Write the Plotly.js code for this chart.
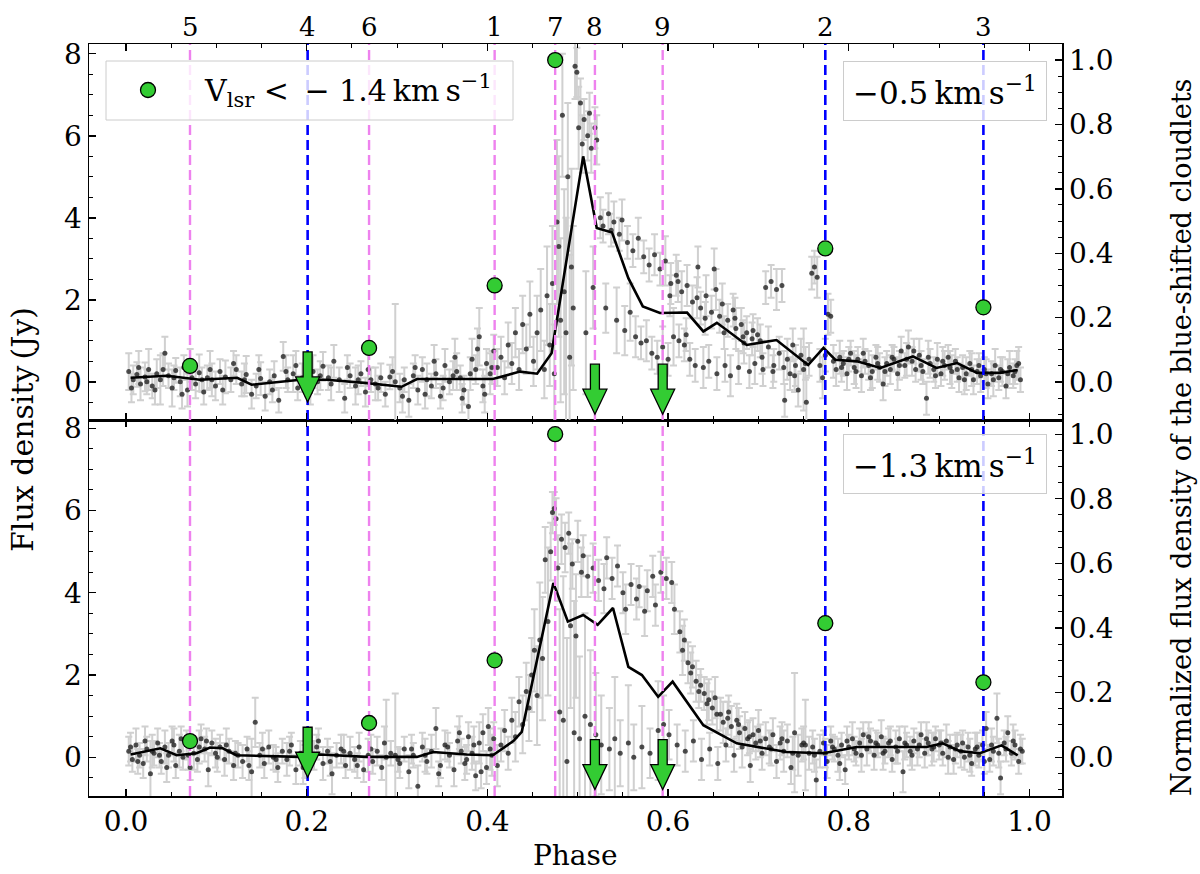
<!DOCTYPE html>
<html>
<head>
<meta charset="utf-8">
<script src="https://cdn.plot.ly/plotly-3.0.1.min.js"></script>
<style>
  html, body { margin: 0; padding: 0; background: #ffffff; }
  #chart { width: 1200px; height: 874px; }
</style>
</head>
<body>
<div id="chart"></div>
<script>
// ---- upper panel (-0.5 km/s): phase, flux density (Jy), 1-sigma error ----
const topPhase = [
  0.003,0.008,0.012,0.016,0.021,0.025,0.029,0.034,0.038,0.043,
  0.047,0.051,0.055,0.060,0.064,0.068,0.073,0.077,0.081,0.086,
  0.090,0.095,0.099,0.104,0.110,0.116,0.122,0.128,0.133,0.139,
  0.144,0.149,0.154,0.159,0.164,0.169,0.174,0.179,0.185,0.190,
  0.195,0.201,0.207,0.212,0.218,0.224,0.230,0.236,0.242,0.248,
  0.254,0.260,0.265,0.271,0.276,0.282,0.287,0.292,0.298,0.303,
  0.308,0.313,0.318,0.323,0.328,0.333,0.338,0.343,0.348,0.353,
  0.358,0.362,0.366,0.370,0.374,0.379,0.383,0.387,0.391,0.395,
  0.399,0.403,0.407,
  0.411,0.415,0.419,0.423,0.427,0.431,0.435,0.439,0.443,0.447,
  0.451,0.455,0.459,0.463,0.466,0.469,0.472,0.474,0.477,0.479,
  0.481,0.483,0.485,0.487,0.489,0.491,0.493,0.495,0.497,0.499,
  0.501,0.503,0.505,0.507,0.509,0.511,0.513,0.515,0.517,0.519,
  0.521,
  0.525,0.528,0.531,0.534,0.537,0.540,0.543,0.546,0.549,0.552,
  0.555,0.558,0.561,0.564,0.567,0.570,0.573,0.576,0.579,0.582,
  0.585,0.588,0.591,0.594,0.597,0.600,0.603,0.606,0.609,0.612,
  0.615,0.618,0.621,0.624,0.627,0.630,0.633,0.636,0.639,0.642,
  0.645,0.648,0.651,0.654,0.657,0.660,0.663,0.666,0.669,0.672,
  0.675,0.678,0.681,0.684,0.687,0.690,0.693,0.696,0.699,0.702,
  0.705,0.708,0.711,0.714,0.717,0.720,0.723,0.726,0.729,0.732,
  0.735,0.738,0.741,0.744,0.747,0.750,0.753,0.756,0.759,0.762,
  0.765,0.768,0.771,0.774,0.777,0.780,0.783,0.786,
  0.790,0.794,0.798,0.802,0.806,0.810,0.814,0.818,0.822,0.826,
  0.830,0.834,0.838,0.842,0.846,0.850,0.854,0.858,0.862,0.866,
  0.870,0.874,0.878,0.882,0.886,0.890,0.894,0.898,0.902,0.906,
  0.910,0.914,0.918,0.922,0.926,0.930,0.934,0.938,0.942,0.946,
  0.950,0.954,0.958,0.962,0.966,0.970,0.974,0.978,0.982,0.986,
  0.990
];
const topFlux = [
  0.25,0.05,0.18,-0.05,0.12,0.30,-0.10,0.20,0.05,0.70,
  0.15,-0.15,0.28,0.00,0.35,-0.20,0.10,-0.05,0.22,-0.25,
  0.10,0.05,-0.10,0.25,0.12,0.05,0.30,-0.05,0.18,-0.30,
  -0.10,0.08,-0.35,0.00,0.15,-0.45,0.62,0.05,0.20,-0.15,
  0.10,-0.05,0.25,0.00,0.38,0.10,0.50,0.05,-0.40,0.15,
  -0.10,0.20,-0.25,0.05,-0.05,0.10,-0.30,0.12,0.00,-0.15,
  0.05,-0.45,0.15,-0.20,0.30,0.05,-0.10,0.20,-0.35,0.40,
  0.00,0.15,0.25,0.10,-0.20,-0.60,0.55,0.30,1.10,-0.10,
  0.45,0.20,0.75,
  0.35,0.60,0.10,0.90,0.45,1.20,0.30,1.40,0.80,1.65,
  0.50,1.20,1.75,0.30,2.10,0.90,2.40,0.20,3.90,3.30,
  1.50,6.50,2.20,1.20,5.00,0.60,2.80,1.80,7.70,7.55,
  6.20,6.80,5.80,6.40,1.20,6.00,6.55,5.70,2.30,6.20,
  5.90,
  4.00,3.80,1.80,4.10,3.70,3.90,1.50,3.60,3.95,1.25,
  3.40,1.70,3.20,1.10,3.50,0.95,3.05,1.00,2.85,0.70,
  3.10,0.60,2.75,0.85,2.95,0.55,2.40,1.10,2.60,1.00,
  2.20,0.90,2.35,0.55,1.95,0.40,2.80,1.80,0.35,2.10,
  0.50,1.70,2.75,0.20,1.60,1.90,0.40,1.50,0.15,1.75,
  1.30,0.35,1.40,0.95,1.20,0.25,1.05,0.45,1.15,1.00,
  0.30,2.30,0.85,2.45,0.40,2.25,0.70,2.35,-0.45,0.55,
  0.20,0.90,0.40,-0.20,0.65,0.30,-0.50,0.55,2.65,2.80,
  2.55,0.40,0.10,0.65,1.65,1.60,0.50,0.30,
  0.60,0.45,0.20,0.70,0.35,0.55,0.15,0.50,0.40,0.25,
  0.60,0.35,-0.05,0.45,0.30,0.55,0.20,0.75,0.40,0.85,
  0.50,0.30,0.65,0.25,-0.40,0.45,0.30,0.55,0.20,0.40,
  0.60,0.25,0.50,0.10,0.35,0.20,0.45,0.05,0.25,0.15,
  0.30,-0.05,0.20,0.40,0.10,0.25,-0.10,0.35,0.15,0.40,
  0.05
];
const topErr = [
  0.45,0.35,0.30,0.40,0.35,0.50,0.30,0.35,0.60,0.40,
  0.30,0.45,0.30,0.35,0.30,0.40,0.30,0.35,0.45,0.30,
  0.30,0.40,0.35,0.30,0.40,0.30,0.35,0.30,0.45,0.35,
  0.30,0.40,0.35,0.30,0.35,0.30,0.35,0.30,0.45,0.30,
  0.35,0.30,0.40,0.30,0.35,0.30,0.40,0.30,0.35,0.30,
  0.45,0.30,0.35,0.30,0.40,0.35,0.30,0.30,1.90,0.35,
  0.30,0.40,0.30,0.35,0.30,0.40,0.30,0.35,0.30,0.40,
  0.30,0.35,0.45,0.30,0.35,0.40,0.50,0.35,0.70,0.40,
  0.35,0.50,0.40,
  0.45,0.50,0.40,0.55,0.50,0.60,0.50,0.70,0.60,0.80,
  0.60,0.90,1.00,0.70,1.20,1.00,1.40,1.20,2.00,2.20,
  2.00,1.50,2.50,2.80,1.80,2.50,2.40,2.00,0.80,0.60,
  1.00,0.60,0.70,0.50,1.50,0.60,0.50,0.60,1.00,0.50,
  0.60,
  0.50,0.40,0.60,0.50,0.40,0.50,0.80,0.40,0.50,0.60,
  0.40,0.70,0.40,0.50,0.50,0.40,0.40,0.50,0.40,0.40,
  0.50,0.40,0.40,0.50,0.60,0.40,0.50,0.70,0.50,0.40,
  0.50,0.40,0.50,0.40,0.40,0.40,0.50,0.40,0.50,0.50,
  0.40,0.40,0.50,0.40,0.40,0.50,0.40,0.40,0.50,0.40,
  0.50,0.40,0.40,0.50,0.40,0.40,0.40,0.50,0.40,0.40,
  0.40,0.40,0.50,0.40,0.40,0.50,0.40,0.40,0.40,0.50,
  0.40,0.40,0.50,0.40,0.40,1.00,0.60,0.40,0.40,0.40,
  0.50,0.40,0.50,0.40,0.50,0.40,0.40,0.40,
  0.40,0.30,0.40,0.30,0.40,0.30,0.40,0.30,0.35,0.40,
  0.30,0.35,0.40,0.30,0.35,0.30,0.40,0.35,0.30,0.40,
  0.35,0.30,0.40,0.30,0.40,0.35,0.30,0.40,0.30,0.35,
  0.30,0.40,0.30,0.35,0.30,0.40,0.30,0.35,0.30,0.40,
  0.30,0.35,0.30,0.40,0.30,0.35,0.30,0.40,0.30,0.35,
  0.30
];
// further upper-panel observations (quiet phases and the decline)
const topPhaseB = [
  0.006,0.014,0.023,0.032,0.041,0.053,0.062,0.071,0.084,0.093,
  0.107,0.119,0.131,0.147,0.162,0.177,0.188,0.204,0.215,0.227,
  0.245,0.257,0.268,0.279,0.295,0.306,0.320,0.331,0.341,0.351,
  0.364,0.372,0.381,0.389,0.397,0.405,
  0.602,0.611,0.620,0.632,0.641,0.653,0.662,0.674,0.683,0.694,
  0.704,0.716,0.728,0.740,0.752,
  0.792,0.800,0.808,0.816,0.824,0.832,0.840,0.848,0.856,0.864,
  0.872,0.880,0.888,0.896,0.904,0.912,0.920,0.928,0.936,0.944,
  0.952,0.960,0.968,0.976,0.984,0.988
];
const topFluxB = [
  -0.15,0.35,0.00,-0.20,0.30,0.10,-0.30,0.40,0.05,0.30,
  -0.20,0.45,0.05,0.30,-0.20,0.25,0.40,-0.25,0.15,-0.05,
  0.35,0.05,0.30,-0.15,0.25,-0.35,0.35,-0.30,0.50,-0.15,
  0.60,-0.40,0.20,0.80,-0.30,0.35,
  2.10,2.45,1.15,2.05,1.55,2.25,1.20,1.55,1.10,1.25,
  0.60,0.25,0.35,0.15,0.45,
  0.35,0.55,0.25,0.70,0.10,0.45,0.25,0.60,0.40,0.55,
  0.75,0.40,0.60,0.15,0.50,0.35,0.30,0.05,0.30,0.40,
  0.20,0.05,0.30,0.20,0.25,0.45
];
const topErrB = [
  0.35,0.40,0.30,0.35,0.40,0.30,0.35,0.40,0.30,0.45,
  0.35,0.30,0.40,0.35,0.30,0.40,0.35,0.30,0.35,0.40,
  0.30,0.35,0.40,0.30,0.35,0.40,0.30,0.35,0.40,0.30,
  0.45,0.35,0.40,0.50,0.45,0.40,
  0.50,0.50,0.40,0.50,0.40,0.50,0.40,0.50,0.40,0.40,
  0.40,0.40,0.40,0.40,0.40,
  0.35,0.30,0.40,0.35,0.30,0.40,0.35,0.30,0.35,0.40,
  0.30,0.35,0.40,0.30,0.35,0.40,0.30,0.35,0.40,0.30,
  0.35,0.40,0.30,0.35,0.30,0.40
];
// binned mean curve, upper panel
const topLinePhase = [0.005,0.045,0.082,0.123,0.139,0.193,0.222,0.267,0.305,0.322,
  0.355,0.406,0.436,0.455,0.471,0.506,0.521,0.538,0.556,0.572,
  0.591,0.621,0.639,0.654,0.687,0.720,0.755,0.772,0.785,0.809,
  0.835,0.871,0.897,0.920,0.942,0.967,0.987];
const topLineFlux = [0.10,0.15,0.05,0.10,-0.07,0.05,0.05,-0.03,-0.12,0.07,
  0.07,0.07,0.25,0.20,0.70,5.50,3.75,3.64,2.53,1.84,
  1.68,1.69,1.23,1.44,0.90,1.02,0.41,0.83,0.54,0.50,
  0.34,0.62,0.34,0.46,0.22,0.22,0.29];

// ---- lower panel (-1.3 km/s) ----
const botPhase = [
  0.003,0.007,0.011,0.015,0.019,0.023,0.027,0.031,0.035,0.039,
  0.043,0.047,0.051,0.055,0.059,0.063,0.067,0.071,0.075,0.079,
  0.083,0.087,0.091,0.095,0.099,0.104,0.109,0.114,0.119,0.124,
  0.129,0.134,0.139,0.143,0.148,0.153,0.158,0.163,0.168,0.173,
  0.178,0.183,0.188,0.193,0.198,0.203,0.208,0.213,0.218,0.223,
  0.228,0.233,0.238,0.243,0.248,0.253,0.258,0.263,0.268,0.273,
  0.278,0.283,0.288,0.293,0.298,0.303,0.308,0.313,0.318,0.323,
  0.328,0.333,0.338,0.343,0.348,0.353,0.358,0.363,0.367,0.371,
  0.375,0.379,0.383,0.387,0.391,0.395,0.399,0.403,0.407,
  0.411,0.415,0.419,0.423,0.427,0.431,0.435,0.439,0.443,0.446,
  0.449,0.452,0.455,0.458,0.461,0.464,0.467,0.470,0.472,0.474,
  0.476,0.478,0.480,0.482,0.484,0.486,0.488,0.490,0.492,0.494,
  0.496,0.498,0.500,0.502,0.504,0.506,0.508,0.511,0.514,0.517,
  0.520,0.523,0.526,0.529,0.532,0.535,0.538,0.541,0.544,0.547,
  0.550,0.553,0.556,0.559,0.562,0.565,0.568,0.571,0.574,0.577,
  0.580,0.583,0.586,0.589,0.592,0.595,0.598,0.601,0.604,0.607,
  0.610,0.613,0.616,0.619,0.622,0.625,0.628,0.631,0.634,0.637,
  0.640,0.643,0.646,0.649,0.652,0.655,0.658,0.661,0.664,0.667,
  0.670,0.673,0.676,0.679,0.682,0.685,0.688,0.691,0.694,0.697,
  0.700,0.704,0.708,0.712,0.716,0.720,0.724,0.728,0.732,0.736,
  0.740,0.744,0.748,0.752,0.756,0.760,0.764,0.768,
  0.772,0.776,0.780,0.784,0.788,0.792,0.796,0.800,0.804,0.808,
  0.812,0.816,0.820,0.824,0.828,0.832,0.836,0.840,0.844,0.848,
  0.852,0.856,0.860,0.864,0.868,0.872,0.876,0.880,0.884,0.888,
  0.892,0.896,0.900,0.904,0.908,0.912,0.916,0.920,0.924,0.928,
  0.932,0.936,0.940,0.944,0.948,0.952,0.956,0.960,0.964,0.968,
  0.972,0.976,0.980,0.984,0.988,0.992
];
const botFlux = [
  0.15,-0.05,0.30,0.05,-0.15,0.20,-0.40,0.10,0.35,-0.10,
  0.25,0.05,0.40,-0.20,0.15,0.00,0.30,-0.25,0.10,-0.05,
  0.45,0.20,-0.30,0.35,0.10,0.25,-0.05,0.15,-0.20,0.05,
  -0.10,0.20,-0.35,0.85,0.05,-0.15,0.25,0.00,-0.25,0.15,
  -0.05,0.30,-0.30,0.10,-0.10,0.20,0.05,0.40,-0.15,0.15,
  -0.40,0.05,0.20,-0.20,0.10,-0.05,0.25,-0.30,0.05,-0.10,
  0.15,-0.25,0.00,0.10,0.05,-0.15,0.20,-0.35,0.05,-0.70,
  0.25,-0.10,0.15,0.70,-0.20,0.30,0.05,-0.30,0.40,0.15,
  -0.15,0.50,0.10,-0.45,0.35,0.60,-0.25,0.20,0.45,
  -0.20,0.30,0.65,0.10,0.90,0.50,1.35,0.80,1.60,1.20,
  2.00,2.60,1.50,2.85,2.40,4.80,3.30,5.00,5.95,6.05,
  5.80,4.60,1.10,5.30,0.90,5.10,-0.10,5.45,3.20,4.70,
  0.60,2.95,5.25,0.45,4.50,4.90,1.00,4.40,0.80,4.60,
  0.55,4.30,0.30,4.10,4.85,0.20,4.35,0.45,4.65,0.10,
  4.00,3.60,0.35,4.20,0.00,3.85,4.15,0.25,3.55,4.05,
  0.10,4.40,3.70,0.65,4.50,0.80,4.35,0.55,4.25,3.60,
  0.30,3.05,2.60,0.15,2.30,2.05,0.40,1.85,1.60,-0.05,
  1.55,1.30,0.20,1.20,1.45,-0.15,1.05,0.85,0.30,1.10,
  0.75,0.05,0.90,0.60,0.25,0.70,0.45,-0.20,0.55,0.35,
  0.65,0.10,0.45,0.25,0.55,-0.10,0.35,0.15,0.40,-0.25,
  0.60,0.05,0.30,0.30,0.10,0.25,-0.55,0.15,
  0.35,-0.10,0.40,0.20,0.05,0.30,-0.30,0.25,0.45,0.10,
  0.35,0.55,0.20,0.40,0.05,0.30,0.50,0.15,0.35,-0.05,
  0.25,0.45,-0.35,0.30,0.15,0.40,0.20,0.55,0.10,0.35,
  0.20,0.45,0.30,0.10,0.40,0.25,-0.05,0.30,0.15,0.00,
  0.25,-0.15,0.20,0.05,0.30,0.70,-0.05,0.15,0.95,-0.50,
  0.35,0.60,0.10,0.30,-0.10,0.15
];
const botErr = [
  0.35,0.30,0.40,0.30,0.35,0.30,0.80,0.30,0.35,0.30,
  0.40,0.30,0.35,0.30,0.40,0.30,0.35,0.30,0.40,0.30,
  0.35,0.30,0.40,0.30,0.35,0.30,0.40,0.30,0.35,0.30,
  0.40,0.30,0.80,0.60,0.30,0.35,0.40,0.30,0.35,0.30,
  0.40,0.30,0.35,0.30,0.40,0.30,0.35,0.30,0.40,0.30,
  0.50,0.30,0.35,0.30,0.40,0.30,0.35,0.30,0.40,0.30,
  0.35,0.30,1.40,0.30,1.50,0.35,0.30,0.40,0.30,0.50,
  0.35,0.30,0.40,0.50,0.30,0.35,0.30,0.40,0.35,0.30,
  0.40,0.35,0.40,0.35,0.50,0.45,0.40,0.50,0.40,
  0.50,0.40,0.50,0.40,0.55,0.60,0.60,0.70,0.70,0.80,
  0.90,1.00,1.20,1.40,1.50,0.80,1.80,0.70,0.50,0.40,
  0.50,0.80,2.50,0.60,3.50,0.60,3.00,0.50,2.00,0.60,
  3.20,1.50,0.50,2.00,0.60,0.50,2.50,0.50,1.80,0.60,
  1.50,0.50,1.20,0.60,0.50,1.00,0.50,1.50,0.50,0.80,
  0.50,0.60,1.40,0.50,0.80,0.50,0.50,1.00,0.60,0.50,
  0.60,0.50,0.50,1.20,0.50,0.70,0.50,0.60,0.50,0.60,
  0.50,0.50,0.60,0.50,0.50,0.50,0.50,0.50,0.40,0.50,
  0.40,0.50,0.40,0.40,0.50,0.40,0.40,0.50,0.40,0.40,
  0.50,0.40,0.40,0.40,0.50,0.40,0.40,0.40,0.40,0.40,
  0.50,0.40,0.40,0.40,0.40,0.40,0.40,0.50,0.40,0.40,
  1.45,0.50,0.40,1.10,0.40,0.40,0.50,0.40,
  0.30,0.40,0.35,0.30,0.40,0.30,0.35,0.30,0.40,0.30,
  0.35,0.30,0.40,0.30,0.35,0.30,0.40,0.30,0.35,0.30,
  0.40,0.30,0.50,0.30,0.35,0.30,0.40,0.30,0.35,0.30,
  0.40,0.30,0.35,0.30,0.40,0.30,0.35,0.30,0.40,0.30,
  0.35,0.30,0.40,0.30,0.35,0.40,0.30,0.35,0.60,0.40,
  0.30,0.40,0.30,0.35,0.30,0.30
];
// further lower-panel observations
const botPhaseB = [
  0.005,0.013,0.021,0.029,0.037,0.045,0.053,0.061,0.069,0.081,
  0.089,0.101,0.111,0.121,0.136,0.151,0.166,0.181,0.196,0.211,
  0.226,0.241,0.256,0.271,0.286,0.301,0.316,0.331,0.346,0.356,
  0.369,0.377,0.385,0.393,0.401,0.405,
  0.618,0.627,0.636,0.645,0.654,0.666,0.678,0.690,0.702,0.714,
  0.726,0.738,0.750,0.762,
  0.774,0.782,0.790,0.798,0.806,0.814,0.822,0.830,0.838,0.846,
  0.854,0.862,0.870,0.878,0.886,0.894,0.902,0.910,0.918,0.926,
  0.934,0.942,0.950,0.958,0.966,0.974,0.982,0.990
];
const botFluxB = [
  0.25,-0.10,0.40,0.15,0.05,-0.25,0.30,0.45,0.05,0.25,
  0.40,0.00,0.30,0.10,-0.20,0.20,-0.05,0.15,-0.25,0.25,
  -0.10,0.15,-0.20,0.20,0.35,-0.05,0.20,0.05,-0.40,0.25,
  0.60,-0.05,0.30,-0.35,0.75,0.05,
  2.85,2.20,1.75,1.40,1.05,0.95,0.80,0.50,0.40,0.20,
  0.45,0.10,0.35,0.05,
  0.10,0.25,-0.15,0.40,0.20,0.05,0.50,0.35,0.10,0.40,
  0.15,0.35,0.05,0.30,0.45,0.25,0.35,0.00,0.20,0.35,
  0.05,0.25,-0.10,0.30,0.10,0.20,0.40,0.20
];
const botErrB = [
  0.35,0.30,0.35,0.40,0.30,0.35,0.40,0.30,0.35,0.40,
  0.30,0.35,0.40,0.30,0.35,0.40,0.30,0.35,0.40,0.30,
  0.35,0.40,0.30,0.35,0.40,0.30,0.35,0.40,0.30,0.35,
  0.40,0.35,0.45,0.40,0.45,0.50,
  0.50,0.50,0.40,0.50,0.40,0.40,0.40,0.40,0.40,0.40,
  0.40,0.40,0.40,0.40,
  0.35,0.30,0.40,0.35,0.30,0.40,0.35,0.30,0.40,0.35,
  0.30,0.40,0.35,0.30,0.40,0.35,0.30,0.40,0.35,0.30,
  0.40,0.35,0.30,0.40,0.35,0.30,0.40,0.35
];
const botLinePhase = [0.005,0.038,0.056,0.078,0.093,0.107,0.122,0.193,0.215,0.266,
  0.322,0.340,0.377,0.406,0.429,0.438,0.473,0.489,0.506,0.522,
  0.539,0.556,0.571,0.589,0.605,0.639,0.676,0.731,0.772,0.783,
  0.809,0.846,0.886,0.904,0.923,0.945,0.969,0.987];
const botLineFlux = [0.07,0.22,0.05,0.10,0.24,0.22,0.05,0.01,0.07,0.01,
  0.01,0.13,0.07,0.05,0.40,0.62,4.24,3.30,3.46,3.22,
  3.63,2.20,2.00,1.47,1.84,0.78,0.34,0.13,0.10,0.15,
  0.25,0.25,0.25,0.34,0.15,0.10,0.29,0.05];

// ---- normalised flux of the blue-shifted cloudlets (same in both panels) ----
const dotPhase = [0.0708, 0.269, 0.408, 0.475, 0.774, 0.949];
const dotNorm  = [0.050, 0.106, 0.300, 1.000, 0.415, 0.232];
// upper limits (arrows): phase and arrow tip on the normalised scale
const arrowPhase = [0.201, 0.519, 0.594];
const arrowTip   = [-0.062, -0.100, -0.100];

// epoch markers
const magentaPhase  = [0.0708, 0.269, 0.408, 0.475, 0.519, 0.594];
const magentaLabels = ['5', '6', '1', '7', '8', '9'];
const bluePhase  = [0.201, 0.774, 0.949];
const blueLabels = ['4', '2', '3'];

const panelLabels = ['\u22120.5\u2009km\u2009s<sup>\u22121</sup>', '\u22121.3\u2009km\u2009s<sup>\u22121</sup>'];

// axis ranges
const xRange = [-0.041, 1.036];
const fluxRangeTop = [-0.93, 8.24];
const fluxRangeBot = [-0.94, 8.20];
const normRangeTop = [-0.118, 1.05];
const normRangeBot = [-0.12, 1.044];

const FONT = 'DejaVu Serif';
const GREEN = '#33cc33';
const MAGENTA = '#ee82ee';
const BLUE = '#0000ff';

function vlines(ps, lo, hi) {
    const x = [], y = [];
    ps.forEach(p => { x.push(p, p, null); y.push(lo, hi, null); });
    return { x, y };
}

function panelTraces(phase, flux, err, lphase, lflux, xa, ya, yn, frange) {
    const mag = vlines(magentaPhase, frange[0], frange[1]);
    const blu = vlines(bluePhase, frange[0], frange[1]);
    return [
        {
            x: phase, y: flux, xaxis: xa, yaxis: ya, type: 'scatter', mode: 'markers',
            marker: { color: 'rgba(35,35,35,0.8)', size: 5 },
            error_y: { type: 'data', array: err, visible: true, color: '#d0d0d0', thickness: 2, width: 3.5 },
            showlegend: false, hoverinfo: 'skip'
        },
        {
            x: lphase, y: lflux, xaxis: xa, yaxis: ya, type: 'scatter', mode: 'lines',
            line: { color: 'black', width: 2.6 }, showlegend: false, hoverinfo: 'skip'
        },
        {
            x: mag.x, y: mag.y, xaxis: xa, yaxis: ya, type: 'scatter', mode: 'lines',
            line: { color: MAGENTA, width: 2.4, dash: '10px,5px' }, showlegend: false, hoverinfo: 'skip'
        },
        {
            x: blu.x, y: blu.y, xaxis: xa, yaxis: ya, type: 'scatter', mode: 'lines',
            line: { color: BLUE, width: 2.6, dash: '10px,5px' }, showlegend: false, hoverinfo: 'skip'
        },
        {
            x: dotPhase, y: dotNorm, xaxis: xa, yaxis: yn, type: 'scatter', mode: 'markers',
            marker: { color: GREEN, size: 15, line: { color: 'black', width: 1.3 } },
            showlegend: false, hoverinfo: 'skip'
        }
    ];
}

const data = [].concat(
    panelTraces(topPhase.concat(topPhaseB), topFlux.concat(topFluxB), topErr.concat(topErrB),
                topLinePhase, topLineFlux, 'x2', 'y', 'y2', fluxRangeTop),
    panelTraces(botPhase.concat(botPhaseB), botFlux.concat(botFluxB), botErr.concat(botErrB),
                botLinePhase, botLineFlux, 'x', 'y3', 'y4', fluxRangeBot)
);

// plot area in pixels: x 89..1062, y 44..796
const M = { l: 89, r: 138, t: 44, b: 78 };
const PW = 1200 - M.l - M.r, PH = 874 - M.t - M.b;
const px = v => (v - M.l) / PW;
const py = v => (874 - M.b - v) / PH;

const tickfont = { family: FONT, size: 28, color: 'black' };
const common = {
    showgrid: false, zeroline: false, showline: true, linecolor: 'black', linewidth: 1.5,
    ticks: 'inside', ticklen: 7, tickwidth: 1.3, tickcolor: 'black', tickfont: tickfont
};
const xCommon = Object.assign({}, common, {
    range: xRange, tick0: 0, dtick: 0.2, tickformat: '.1f', mirror: 'ticks',
    minor: { tick0: 0, dtick: 0.05, ticks: 'inside', ticklen: 4, tickwidth: 1, tickcolor: 'black' }
});
const fluxCommon = Object.assign({}, common, {
    tick0: 0, dtick: 2,
    minor: { tick0: 0, dtick: 0.5, ticks: 'inside', ticklen: 4, tickwidth: 1, tickcolor: 'black' }
});
const normCommon = Object.assign({}, common, {
    side: 'right', tick0: 0, dtick: 0.2, tickformat: '.1f',
    minor: { tick0: 0, dtick: 0.05, ticks: 'inside', ticklen: 4, tickwidth: 1, tickcolor: 'black' }
});

// arrows: green, black outline, tip at (phase, value); geometry in pixels, y up
const arrowPath = 'M0,0 L-12,25 L-4.5,25 L-4.5,50 L4.5,50 L4.5,25 L12,25 Z';
const shapes = [];
[['x2', 'y2'], ['x', 'y4']].forEach(([xr, yr]) => {
    arrowPhase.forEach((p, i) => {
        shapes.push({
            type: 'path', xref: xr, yref: yr, xsizemode: 'pixel', ysizemode: 'pixel',
            xanchor: p, yanchor: arrowTip[i], path: arrowPath,
            fillcolor: GREEN, line: { color: 'black', width: 1.3 }, layer: 'above'
        });
    });
});
// legend frame + symbol
shapes.push({
    type: 'rect', xref: 'paper', yref: 'paper',
    x0: px(106), x1: px(513), y0: py(120), y1: py(61),
    fillcolor: 'rgba(255,255,255,0.8)', line: { color: '#cccccc', width: 1 }, layer: 'above'
});
shapes.push({
    type: 'circle', xref: 'paper', yref: 'paper', xsizemode: 'pixel', ysizemode: 'pixel',
    xanchor: px(148), yanchor: py(90), x0: -7.5, x1: 7.5, y0: -7.5, y1: 7.5,
    fillcolor: GREEN, line: { color: 'black', width: 1.3 }, layer: 'above'
});

const annotations = [];
// epoch numbers above the top panel
magentaPhase.concat(bluePhase).forEach((p, i) => {
    const lab = magentaLabels.concat(blueLabels)[i];
    annotations.push({
        text: lab, x: p, xref: 'x2', y: 1, yref: 'paper', yanchor: 'bottom', yshift: 0,
        showarrow: false, font: { family: FONT, size: 26, color: 'black' }
    });
});
// legend text
annotations.push({
    text: 'V<sub>lsr</sub> &lt; \u2009\u2212 1.4\u2009km\u2009s<sup>\u22121</sup>',
    x: px(202), xref: 'paper', xanchor: 'left', y: py(90), yref: 'paper', yanchor: 'middle',
    showarrow: false, font: { family: FONT, size: 30, color: 'black' }
});
// velocity boxes
[[py(61), 0], [py(434), 1]].forEach(([yy, k]) => {
    annotations.push({
        text: panelLabels[k], x: px(1047), xref: 'paper', xanchor: 'right',
        y: yy, yref: 'paper', yanchor: 'top', showarrow: false,
        font: { family: FONT, size: 31, color: 'black' },
        bgcolor: 'rgba(255,255,255,0.8)', bordercolor: '#cccccc', borderwidth: 1, borderpad: 9
    });
});
// axis titles
annotations.push({
    text: 'Phase', x: 0.5, xref: 'paper', xanchor: 'center', y: py(855), yref: 'paper', yanchor: 'middle',
    showarrow: false, font: { family: FONT, size: 28, color: 'black' }
});
annotations.push({
    text: 'Flux density\u2009(Jy)', x: px(22), xref: 'paper', xanchor: 'center',
    y: py(430), yref: 'paper', yanchor: 'middle',
    textangle: -90, showarrow: false, font: { family: FONT, size: 30, color: 'black' }
});
annotations.push({
    text: 'Normalized flux density of the blue-shifted cloudlets', x: px(1181), xref: 'paper', xanchor: 'center',
    y: py(438), yref: 'paper', yanchor: 'middle', textangle: -90, showarrow: false,
    font: { family: FONT, size: 27, color: 'black' }
});

const layout = {
    width: 1200, height: 874, autosize: false,
    margin: M,
    paper_bgcolor: 'white', plot_bgcolor: 'white',
    font: { family: FONT, color: 'black' },
    showlegend: false,
    xaxis: Object.assign({}, xCommon, { anchor: 'y3', domain: [0, 1] }),
    xaxis2: Object.assign({}, xCommon, { anchor: 'y', domain: [0, 1], matches: 'x', showticklabels: false }),
    yaxis: Object.assign({}, fluxCommon, { domain: [0.5, 1], anchor: 'x2', range: fluxRangeTop }),
    yaxis2: Object.assign({}, normCommon, { overlaying: 'y', anchor: 'x2', range: normRangeTop }),
    yaxis3: Object.assign({}, fluxCommon, { domain: [0, 0.5], anchor: 'x', range: fluxRangeBot }),
    yaxis4: Object.assign({}, normCommon, { overlaying: 'y3', anchor: 'x', range: normRangeBot }),
    shapes: shapes,
    annotations: annotations
};

Plotly.newPlot('chart', data, layout, { displayModeBar: false, staticPlot: true });
</script>
</body>
</html>
